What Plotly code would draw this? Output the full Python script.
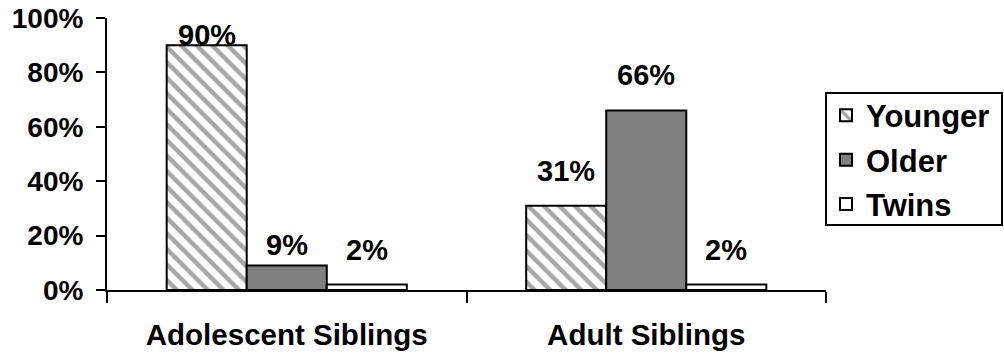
import plotly.graph_objects as go

# Share of siblings by birth order, per sibling group
categories = ["Adolescent Siblings", "Adult Siblings"]
series_names = ["Younger", "Older", "Twins"]
younger = [0.90, 0.31]
older = [0.09, 0.66]
twins = [0.02, 0.02]
y_tick_values = [0.0, 0.2, 0.4, 0.6, 0.8, 1.0]
y_tick_labels = ["0%", "20%", "40%", "60%", "80%", "100%"]

FONT = "Liberation Sans, Arial, sans-serif"
BAR_GAP = 0.332

series = [younger, older, twins]
fills = [
    dict(color="white", pattern=dict(shape="\\", fgcolor="#a6a6a6", bgcolor="white",
                                     size=11, solidity=0.4, fillmode="replace")),
    dict(color="#808080"),
    dict(color="white"),
]

fig = go.Figure()
for name, vals, fill in zip(series_names, series, fills):
    fig.add_trace(go.Bar(
        name=name, x=categories, y=vals,
        marker=dict(line=dict(color="black", width=2), **fill),
        legendgroup=name,
    ))

# value labels above each bar
bar_w = (1 - BAR_GAP) / len(series)
label_shift = {(0, 0): -8, (1, 0): 3}
for si, vals in enumerate(series):
    for ci, v in enumerate(vals):
        fig.add_annotation(
            x=ci + (si - 1) * bar_w, y=v, xref="x", yref="y",
            text=f"{v:.0%}", showarrow=False, yanchor="bottom",
            yshift=label_shift.get((si, ci), 17),
            font=dict(family=FONT, size=29, color="black", weight="bold"),
        )

# legend frame drawn as a shape so it can hug the entries tightly
fig.add_shape(type="rect", xref="paper", yref="paper",
              x0=1.0, x1=1.2448, y0=0.239, y1=0.724,
              line=dict(color="black", width=2), fillcolor="rgba(0,0,0,0)", layer="above")

fig.update_layout(
    width=1004, height=354,
    margin=dict(l=107, r=178, t=18, b=64, autoexpand=False),
    paper_bgcolor="white", plot_bgcolor="white",
    font=dict(family=FONT, color="black", weight="bold"),
    barmode="group", bargap=BAR_GAP, bargroupgap=0,
    showlegend=True,
    legend=dict(
        x=1.0, xanchor="left", y=0.74, yanchor="top",
        borderwidth=0, bgcolor="rgba(0,0,0,0)",
        font=dict(family=FONT, size=31, color="black", weight="bold"),
        tracegroupgap=1, itemwidth=30,
    ),
    xaxis=dict(
        type="category", showline=True, linecolor="black", linewidth=2,
        ticks="outside", tickson="boundaries", ticklen=11, tickwidth=2, tickcolor="black",
        tickfont=dict(family=FONT, size=29.5, color="black", weight="bold"),
        ticklabelstandoff=18, showgrid=False, zeroline=False, automargin=False,
    ),
    yaxis=dict(
        range=[0, 1], showline=True, linecolor="black", linewidth=2,
        ticks="outside", ticklen=9, tickwidth=2, tickcolor="black",
        tickvals=y_tick_values, ticktext=y_tick_labels,
        tickfont=dict(family=FONT, size=28, color="black", weight="bold"),
        ticklabelstandoff=7, showgrid=False, zeroline=False, automargin=False,
    ),
)

fig.write_html("out.html")
